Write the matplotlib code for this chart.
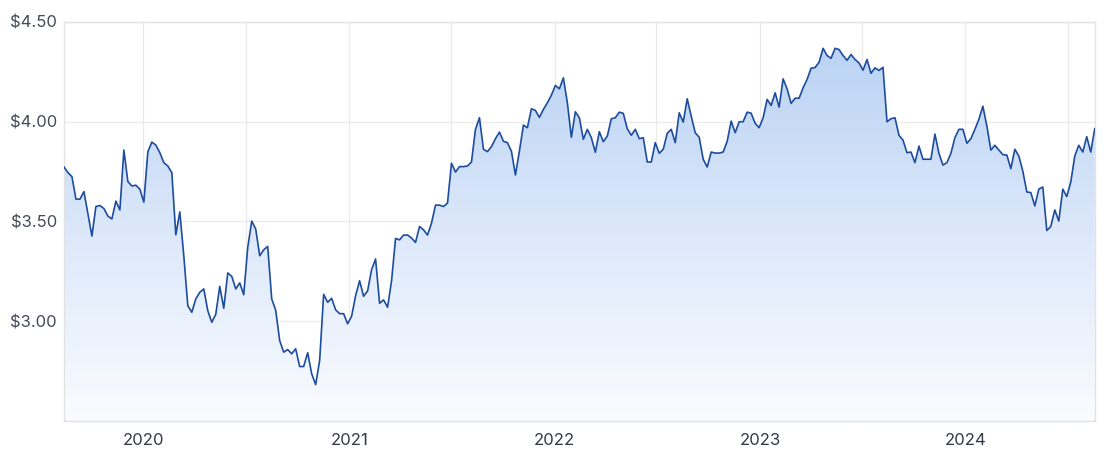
import numpy as np
import pandas as pd
import matplotlib
matplotlib.use("Agg")
import matplotlib.pyplot as plt
import matplotlib.dates as mdates
from matplotlib.colors import LinearSegmentedColormap
from matplotlib.ticker import FuncFormatter

plt.rcParams['font.family'] = ['Inter', 'DejaVu Sans']

# weekly closing prices, Aug 2019 - Aug 2024
prices_2019_20 = [3.773, 3.745, 3.725, 3.612, 3.612, 3.65, 3.537, 3.427, 3.575, 3.58,
                  3.565, 3.527, 3.513, 3.602, 3.558, 3.858, 3.70, 3.678, 3.682, 3.662,
                  3.597, 3.85, 3.898, 3.883, 3.845, 3.795, 3.778, 3.745, 3.433, 3.548,
                  3.328, 3.078, 3.045, 3.112, 3.145, 3.162, 3.053, 2.995, 3.035, 3.175,
                  3.065, 3.242, 3.225, 3.162, 3.192, 3.133, 3.37, 3.502, 3.462, 3.328,
                  3.358, 3.375, 3.112, 3.055, 2.903]
prices_2020_21 = [2.845, 2.858, 2.837, 2.862, 2.773, 2.773, 2.842, 2.737, 2.682, 2.803,
                  3.135, 3.095, 3.115, 3.057, 3.038, 3.038, 2.987, 3.025, 3.128, 3.203,
                  3.125, 3.152, 3.258, 3.312, 3.09, 3.107, 3.07, 3.203, 3.415, 3.408,
                  3.432, 3.432, 3.417, 3.395, 3.475, 3.458, 3.432, 3.492, 3.582, 3.582,
                  3.575, 3.592, 3.792, 3.748, 3.775, 3.775, 3.778, 3.798, 3.962, 4.02,
                  3.862, 3.85, 3.875, 3.915, 3.948, 3.902, 3.895, 3.852, 3.733, 3.853,
                  3.983, 3.97, 4.065, 4.057]
prices_2021_23 = [4.022, 4.062, 4.095, 4.133, 4.182, 4.165, 4.22, 4.095, 3.922, 4.05,
                  4.02, 3.912, 3.962, 3.92, 3.847, 3.95, 3.90, 3.928, 4.015, 4.02,
                  4.048, 4.042, 3.965, 3.932, 3.962, 3.915, 3.92, 3.798, 3.798, 3.895,
                  3.842, 3.862, 3.942, 3.962, 3.895, 4.045, 3.998, 4.115, 4.028, 3.945,
                  3.922, 3.812, 3.773, 3.848, 3.843, 3.843, 3.848, 3.902, 4.003, 3.945,
                  4.00, 4.00, 4.048, 4.043, 3.992, 3.97, 4.02, 4.112, 4.082, 4.145,
                  4.073, 4.215, 4.165, 4.092, 4.118]
prices_2023_24 = [4.118, 4.17, 4.212, 4.268, 4.272, 4.298, 4.368, 4.332, 4.318, 4.368,
                  4.362, 4.332, 4.308, 4.337, 4.312, 4.295, 4.258, 4.312, 4.243, 4.27,
                  4.257, 4.273, 4.00, 4.015, 4.02, 3.932, 3.908, 3.845, 3.848, 3.795,
                  3.878, 3.812, 3.812, 3.812, 3.938, 3.842, 3.783, 3.795, 3.842, 3.92,
                  3.962, 3.962, 3.892, 3.915, 3.962, 4.012, 4.078, 3.978, 3.858, 3.882,
                  3.858, 3.835, 3.833, 3.765, 3.862, 3.828, 3.752, 3.648, 3.645, 3.578,
                  3.662, 3.673, 3.455, 3.475, 3.558, 3.502, 3.662, 3.625, 3.698, 3.828,
                  3.882, 3.848, 3.925, 3.848, 3.965]

prices = prices_2019_20 + prices_2020_21 + prices_2021_23 + prices_2023_24
dates = pd.date_range("2019-08-13", "2024-08-18", periods=len(prices))

y_ticks = [3.0, 3.5, 4.0, 4.5]
year_ticks = ["2020", "2021", "2022", "2023", "2024"]

fig = plt.figure(figsize=(11.18, 4.58), dpi=100)
ax = fig.add_axes([0.0572, 0.0808, 0.9220, 0.8712])

x = mdates.date2num(dates)
y0, y1 = 2.5, 4.5

# gradient fill under the line
fill = ax.fill_between(x, prices, y0, color="none", lw=0)
cmap = LinearSegmentedColormap.from_list("g", ["#fafcff", "#dce8fa", "#b9d2f3"])
grad = np.linspace(0, 1, 256).reshape(-1, 1)
im = ax.imshow(grad, extent=[x[0], x[-1], y0, 4.4], origin="lower", aspect="auto",
               cmap=cmap, zorder=1)
im.set_clip_path(fill.get_paths()[0], transform=ax.transData)

ax.plot(x, prices, color="#1d4c9f", lw=1.2, zorder=3)

ax.set_xlim(x[0], x[-1])
ax.set_ylim(y0, y1)

ax.set_yticks(y_ticks)
ax.yaxis.set_major_formatter(FuncFormatter(lambda v, p: "${:.2f}".format(v)))
ax.set_xticks(mdates.date2num(pd.to_datetime([y + "-01-01" for y in year_ticks])))
ax.set_xticklabels(year_ticks)
half = pd.date_range("2020-01-01", "2024-07-01", freq="6MS")
ax.set_xticks(mdates.date2num(half), minor=True)

ax.grid(True, which="both", color="#ebebeb", lw=1, zorder=0)
ax.set_axisbelow(True)
ax.tick_params(which="both", length=0)
ax.tick_params(axis="y", pad=5, labelsize=12, labelcolor="#454a57")
ax.tick_params(axis="x", pad=9, labelsize=12, labelcolor="#343844")
for s in ax.spines.values():
    s.set_color("#e2e2e2")
    s.set_linewidth(1)

fig.savefig("out.png", dpi=100)
